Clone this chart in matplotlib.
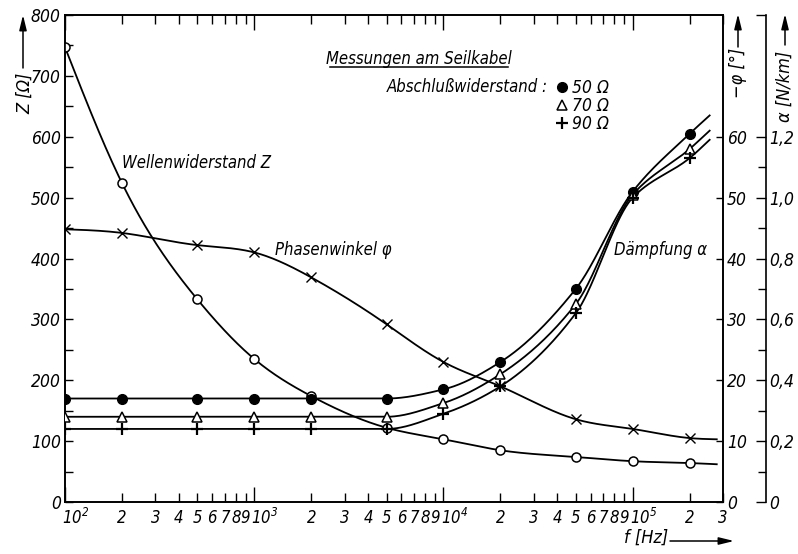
import numpy as np
import matplotlib
matplotlib.use("Agg")
import matplotlib.pyplot as plt
from matplotlib.lines import Line2D

plt.rcParams['font.family'] = ['DejaVu Sans']
plt.rcParams['font.stretch'] = 'condensed'
plt.rcParams['font.style'] = 'italic'
plt.rcParams['mathtext.fontset'] = 'custom'
plt.rcParams['mathtext.rm'] = 'DejaVu Sans:italic:stretch=condensed'
plt.rcParams['mathtext.it'] = 'DejaVu Sans:italic:stretch=condensed'

# Messpunkte (Frequenz in Hz)
freq = [1e2, 2e2, 5e2, 1e3, 2e3, 5e3, 1e4, 2e4, 5e4, 1e5, 2e5]
z_wave = [747, 524, 333, 235, 174, 122, 103, 85, 74, 67, 64]          # Ohm
phase = [44.8, 44.2, 42.2, 41.0, 36.9, 29.2, 23.0, 19.0, 13.6, 12.0, 10.5]  # -phi in Grad
alpha_50 = [0.34, 0.34, 0.34, 0.34, 0.34, 0.34, 0.37, 0.46, 0.70, 1.02, 1.21]
alpha_70 = [0.28, 0.28, 0.28, 0.28, 0.28, 0.28, 0.325, 0.42, 0.65, 1.01, 1.16]
alpha_90 = [0.24, 0.24, 0.24, 0.24, 0.24, 0.24, 0.29, 0.38, 0.62, 1.00, 1.13]

# Kurvenenden rechts vom letzten Messpunkt
f_end = 2.78e5
z_end = 62
phase_end = 10.3
f_end_alpha = 2.55e5
alpha_end = [1.27, 1.22, 1.19]

decades = [1e2, 1e3, 1e4, 1e5]
decade_labels = ['$10^2$', '$10^3$', '$10^4$', '$10^5$']
z_ticks = [0, 100, 200, 300, 400, 500, 600, 700, 800]
phi_ticks = [0, 10, 20, 30, 40, 50, 60]
alpha_ticks = [0, 0.2, 0.4, 0.6, 0.8, 1.0, 1.2]
alpha_labels = ['0', '0,2', '0,4', '0,6', '0,8', '1,0', '1,2']


def hermite(x, y, m, xs):
    h = np.diff(x)
    i = np.clip(np.searchsorted(x, xs) - 1, 0, len(x) - 2)
    t = (xs - x[i]) / h[i]
    h00 = 2 * t**3 - 3 * t**2 + 1
    h10 = t**3 - 2 * t**2 + t
    h01 = -2 * t**3 + 3 * t**2
    h11 = t**3 - t**2
    return h00 * y[i] + h10 * h[i] * m[i] + h01 * y[i + 1] + h11 * h[i] * m[i + 1]


def pchip(x, y, xs):
    """monotone kubische Hermite-Interpolation (Fritsch-Carlson)"""
    x = np.asarray(x, float)
    y = np.asarray(y, float)
    h = np.diff(x)
    d = np.diff(y) / h
    m = np.zeros_like(y)
    m[0], m[-1] = d[0], d[-1]
    for k in range(1, len(x) - 1):
        if d[k - 1] * d[k] > 0:
            w1 = 2 * h[k] + h[k - 1]
            w2 = h[k] + 2 * h[k - 1]
            m[k] = (w1 + w2) / (w1 / d[k - 1] + w2 / d[k])
    return hermite(x, y, m, xs)


def spline(x, y, xs):
    """natuerlicher kubischer Spline"""
    x = np.asarray(x, float)
    y = np.asarray(y, float)
    n = len(x)
    h = np.diff(x)
    A = np.zeros((n, n))
    r = np.zeros(n)
    A[0, 0] = A[-1, -1] = 1
    for k in range(1, n - 1):
        A[k, k - 1] = h[k - 1]
        A[k, k] = 2 * (h[k - 1] + h[k])
        A[k, k + 1] = h[k]
        r[k] = 6 * ((y[k + 1] - y[k]) / h[k] - (y[k] - y[k - 1]) / h[k - 1])
    M = np.linalg.solve(A, r)
    i = np.clip(np.searchsorted(x, xs) - 1, 0, n - 2)
    a = x[i + 1] - xs
    b = xs - x[i]
    return (M[i] * a**3 + M[i + 1] * b**3) / (6 * h[i]) \
        + (y[i] / h[i] - M[i] * h[i] / 6) * a + (y[i + 1] / h[i] - M[i + 1] * h[i] / 6) * b


def curve(ax, f, y, smooth=pchip, **kw):
    lf = np.log10(f)
    xs = np.linspace(lf[0], lf[-1], 500)
    ax.plot(10**xs, smooth(lf, y, xs), color='k', lw=1.3, **kw)


def px(x, y):
    return x / 798, 1 - y / 554


fig = plt.figure(figsize=(7.98, 5.54), dpi=100)
ax = fig.add_axes([65 / 798, 52 / 554, 658 / 798, 487 / 554])
ax_phi = ax.twinx()
ax_a = ax.twinx()

ax.set_xscale('log')
ax.set_xlim(1e2, 3e5)
ax.set_ylim(0, 800)
ax_phi.set_ylim(0, 80)
ax_a.set_ylim(0, 1.6)

# Wellenwiderstand
curve(ax, freq + [f_end], z_wave + [z_end], smooth=spline, zorder=2)
ax.plot(freq, z_wave, 'o', ms=6.5, mfc='white', mec='k', mew=1.1, zorder=3)

# Phasenwinkel
curve(ax_phi, freq + [f_end], phase + [phase_end], smooth=spline, zorder=2)
ax_phi.plot(freq, phase, 'x', ms=6.5, mec='k', mew=1.0, zorder=3)

# Daempfung fuer die drei Abschlusswiderstaende
curve(ax_a, freq + [f_end_alpha], alpha_50 + [alpha_end[0]], zorder=2)
curve(ax_a, freq + [f_end_alpha], alpha_70 + [alpha_end[1]], zorder=2)
curve(ax_a, freq + [f_end_alpha], alpha_90 + [alpha_end[2]], zorder=2)
h50, = ax_a.plot(freq, alpha_50, 'o', ms=7, mfc='k', mec='k', zorder=4)
h70, = ax_a.plot(freq, alpha_70, '^', ms=7, mfc='white', mec='k', mew=1.1, zorder=4)
h90, = ax_a.plot(freq, alpha_90, '+', ms=8.5, mec='k', mew=1.6, zorder=4)

# x-Achse: Zehnerpotenzen etwas nach rechts versetzt, Zwischenwerte zentriert
minor = [m * d for d in decades[:3] for m in range(2, 10)] + [2e5, 3e5]
minor_labels = [str(m) for d in decades[:3] for m in range(2, 10)] + ['2', '3']
ax.set_xticks(decades, [''] * len(decades))
ax.set_xticks(minor, minor_labels, minor=True)
ax.tick_params(axis='x', which='both', direction='in', top=True, labelsize=12, pad=5)
ax.tick_params(axis='x', which='major', length=10.5, width=1)
ax.tick_params(axis='x', which='minor', length=6.5, width=1)
for d, lab in zip(decades, decade_labels):
    ax.annotate(lab, xy=(d, 0), xycoords=('data', 'axes fraction'), xytext=(-2, -4.5),
                textcoords='offset points', ha='left', va='top', fontsize=12)

# linke Achse Z
ax.set_yticks(z_ticks)
ax.set_yticks(np.arange(50, 800, 100), minor=True)
ax.tick_params(axis='y', which='both', direction='in', right=False, length=5.5, width=1,
               labelsize=12.5, pad=3)

# rechte Achse phi
ax_phi.set_yticks(phi_ticks)
ax_phi.tick_params(axis='y', direction='in', length=5, width=1, labelsize=12.5, pad=3)

# zweite rechte Achse alpha
ax_a.spines['right'].set_position(('axes', (766 - 65) / 658))
for s in ['top', 'bottom', 'left']:
    ax_a.spines[s].set_visible(False)
ax_a.set_yticks(alpha_ticks + [1.6], alpha_labels + [''])
ax_a.set_yticks(np.arange(0.1, 1.15, 0.2), minor=True)
ax_a.tick_params(axis='y', which='major', direction='in', length=7, width=1,
                 labelsize=12.5, pad=2)
ax_a.tick_params(axis='y', which='minor', direction='in', length=6, width=1)

for a in (ax, ax_phi, ax_a):
    for s in a.spines.values():
        s.set_linewidth(1.2)

# Achsbeschriftungen mit Pfeilen
arrow = dict(arrowstyle='-|>,head_length=0.9,head_width=0.22', lw=1.1, color='k',
             shrinkA=0, shrinkB=0)
ax.annotate('', xy=px(23, 15), xytext=px(23, 68), xycoords='figure fraction',
            textcoords='figure fraction', arrowprops=arrow)
fig.text(*px(25, 93), 'Z [Ω]', rotation=90, ha='center', va='center', fontsize=13)
ax.annotate('', xy=px(738, 14), xytext=px(738, 47), xycoords='figure fraction',
            textcoords='figure fraction', arrowprops=arrow)
fig.text(*px(738, 73), '−φ [°]', rotation=90, ha='center', va='center', fontsize=13)
ax.annotate('', xy=px(785, 14), xytext=px(785, 45), xycoords='figure fraction',
            textcoords='figure fraction', arrowprops=arrow)
fig.text(*px(785, 86), 'α [N/km]', rotation=90, ha='center', va='center', fontsize=13)
ax.annotate('', xy=px(734, 541), xytext=px(670, 541), xycoords='figure fraction',
            textcoords='figure fraction', arrowprops=arrow)
fig.text(*px(646, 538), 'f [Hz]', ha='center', va='center', fontsize=13)

# Kurvenbeschriftungen
fig.text(*px(197, 163), 'Wellenwiderstand Z', ha='center', va='center', fontsize=12)
fig.text(*px(333, 250), 'Phasenwinkel φ', ha='center', va='center', fontsize=12)
fig.text(*px(661, 250), 'Dämpfung α', ha='center', va='center', fontsize=12)

fig.text(*px(419, 59), 'Messungen am Seilkabel', ha='center', va='center', fontsize=12)
fig.add_artist(Line2D([330 / 798, 508 / 798], [1 - 67 / 554, 1 - 67 / 554], color='k', lw=1.1))

fig.text(*px(548, 87), 'Abschlußwiderstand :', ha='right', va='center', fontsize=12)
fig.legend([h50, h70, h90], ['50 Ω', '70 Ω', '90 Ω'], loc='upper left',
           bbox_to_anchor=px(555, 79), frameon=False, fontsize=12.5, handlelength=0.8,
           handletextpad=0.2, labelspacing=0.0, borderpad=0, borderaxespad=0)

fig.savefig('out.png', dpi=100)
